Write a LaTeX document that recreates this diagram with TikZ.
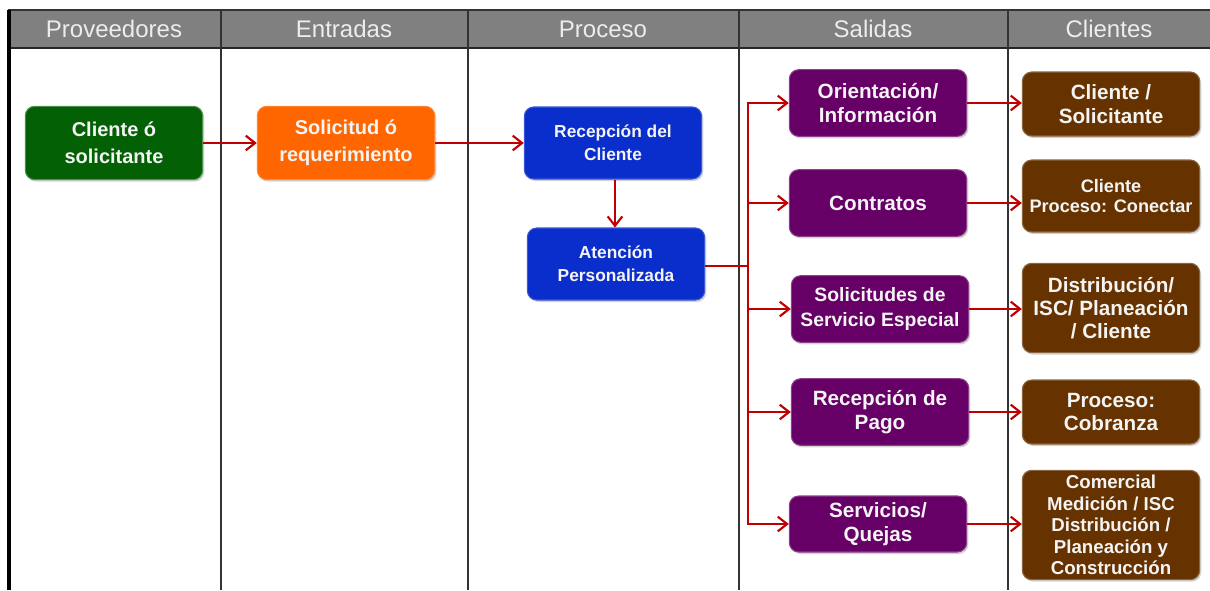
\documentclass[tikz,border=0pt]{standalone}
\usepackage{fontspec}
\setmainfont{Liberation Sans}
\usetikzlibrary{arrows.meta,shadows}
\definecolor{hdr}{HTML}{808080}
\definecolor{hdrtxt}{HTML}{EDEDED}
\definecolor{cgreen}{HTML}{046004}
\definecolor{corange}{HTML}{FF6600}
\definecolor{cblue}{HTML}{0A2ECC}
\definecolor{cpurple}{HTML}{660066}
\definecolor{cbrown}{HTML}{663300}
\definecolor{cline}{HTML}{C00000}
\definecolor{txtw}{HTML}{F4F4F4}
\tikzset{
  box/.style={rounded corners=7pt, minimum width=133pt, align=center,
    text=txtw, font=\bfseries, inner sep=1pt,
    drop shadow={shadow xshift=1.2pt, shadow yshift=-1.5pt, opacity=0.35}},
  gbox/.style={box, fill=cgreen, draw=cgreen!70!white, line width=0.8pt, minimum height=55pt,
    font=\bfseries\fontsize{15pt}{20pt}\selectfont},
  obox/.style={box, fill=corange, draw=corange!80!white, line width=0.8pt, minimum height=55pt,
    font=\bfseries\fontsize{15pt}{20pt}\selectfont},
  bbox/.style={box, fill=cblue, draw=cblue!80!white, line width=0.8pt, minimum height=54pt,
    font=\bfseries\fontsize{13pt}{17.5pt}\selectfont},
  pbox/.style={box, fill=cpurple, draw=cpurple!75!white, line width=0.8pt, minimum height=50pt,
    font=\bfseries\fontsize{15.5pt}{18.5pt}\selectfont},
  brbox/.style={box, fill=cbrown, draw=cbrown!75!white, line width=0.8pt,
    font=\bfseries\fontsize{15.5pt}{17.5pt}\selectfont},
  conn/.style={draw=cline, line width=1.6pt},
  arr/.style={conn, -{Straight Barb[length=7pt,width=11pt]}},
  htext/.style={text=hdrtxt, font=\fontsize{18pt}{21pt}\selectfont},
  sep/.style={draw=black!80, line width=1.1pt},
}
\begin{document}
\begin{tikzpicture}[x=0.75pt,y=-0.75pt]
\useasboundingbox (0,0) rectangle (1210,590);
% header
\fill[hdr] (8,10) rectangle (1210,48);
\draw[black!80, line width=0.8pt] (8,10) -- (1210,10);
\draw[black!85, line width=1.5pt] (8,48) -- (1210,48);
\foreach \xx in {221,468,739,1008} \draw[sep] (\xx,10) -- (\xx,590);
\draw[black, line width=2.4pt] (9,10) -- (9,590);
\node[htext] (h1) at (114,29) {Proveedores};
\node[htext] (h2) at (344,29) {Entradas};
\node[htext] (h3) at (603,29) {Proceso};
\node[htext] (h4) at (873,29) {Salidas};
\node[htext] (h5) at (1109,29) {Clientes};
% boxes
\node[gbox] (cs) at (114,143) {Cliente ó\\solicitante};
\node[obox] (sr) at (346,143) {Solicitud ó\\requerimiento};
\node[bbox] (rc) at (613,143) {Recepción del\\Cliente};
\node[bbox] (ap) at (616,264) {Atención\\Personalizada};
\node[pbox] (p1) at (878,103) {Orientación/\\Información};
\node[pbox] (p2) at (878,203) {Contratos};
\node[pbox, font=\bfseries\fontsize{14.5pt}{18.5pt}\selectfont] (p3) at (880,309) {Solicitudes de\\Servicio Especial};
\node[pbox] (p4) at (880,412) {Recepción de\\Pago};
\node[pbox, minimum height=42pt] (p5) at (878,524) {Servicios/\\Quejas};
\node[brbox, minimum height=48pt] (b1) at (1111,104) {Cliente /\\Solicitante};
\node[brbox, minimum height=54pt, font=\bfseries\fontsize{13.6pt}{15.5pt}\selectfont] (b2) at (1111,196) {Cliente\\Proceso: Conectar};
\node[brbox, minimum height=67pt] (b3) at (1111,308) {Distribución/\\ISC/ Planeación\\/ Cliente};
\node[brbox, minimum height=48pt] (b4) at (1111,412) {Proceso:\\Cobranza};
\node[brbox, minimum height=82pt, font=\bfseries\fontsize{14pt}{16.2pt}\selectfont] (b5) at (1111,525) {Comercial\\Medición / ISC\\Distribución /\\Planeación y\\Construcción};
% connectors
\draw[arr] (cs) -- (sr);
\draw[arr] (sr) -- (rc);
\draw[arr] (rc.south -| 615,0) -- (ap.north -| 615,0);
\coordinate (tr) at (748,266);
\draw[conn] (ap.east |- tr) -- (tr);
\draw[conn] (748,103) -- (748,524);
\draw[arr] (tr) |- (p1);
\draw[arr] (tr) |- (p2);
\draw[arr] (tr) |- (p3);
\draw[arr] (tr) |- (p4);
\draw[arr] (tr) |- (p5);
\draw[arr] (p1.east) -- (p1.east -| b1.west);
\draw[arr] (p2.east) -- (p2.east -| b2.west);
\draw[arr] (p3.east) -- (p3.east -| b3.west);
\draw[arr] (p4.east) -- (p4.east -| b4.west);
\draw[arr] (p5.east) -- (p5.east -| b5.west);
\end{tikzpicture}
\end{document}
